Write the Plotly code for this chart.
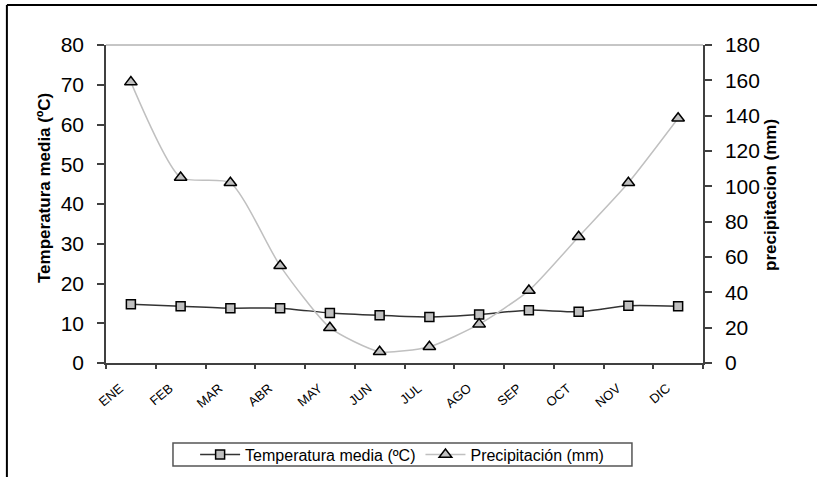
import plotly.graph_objects as go

# Monthly climate data
months = ["ENE", "FEB", "MAR", "ABR", "MAY", "JUN",
          "JUL", "AGO", "SEP", "OCT", "NOV", "DIC"]
temperatura = [14.8, 14.3, 13.8, 13.8, 12.6, 12.0,
               11.6, 12.2, 13.3, 12.9, 14.4, 14.3]
precipitacion = [159, 105, 102, 55, 20, 6.4,
                 9.2, 22, 41, 71.5, 102, 138.5]

FONT = "Liberation Sans, Arial, sans-serif"
AXIS_COLOR = "#404040"

fig = go.Figure()

fig.add_trace(go.Scatter(
    x=months, y=temperatura, name="Temperatura media (ºC)",
    mode="lines+markers",
    line=dict(color="#333333", width=1.5, shape="spline", smoothing=0.6),
    marker=dict(symbol="square", size=9, color="#c0c0c0",
                line=dict(color="#000000", width=1.5)),
    yaxis="y",
))

fig.add_trace(go.Scatter(
    x=months, y=precipitacion, name="Precipitación (mm)",
    mode="lines+markers",
    line=dict(color="#c0c0c0", width=1.5, shape="spline", smoothing=0.6),
    marker=dict(symbol="triangle-up", size=11, color="#c0c0c0",
                line=dict(color="#000000", width=1.5)),
    yaxis="y2",
))

tick_font = dict(family=FONT, size=21, color="#000000")

fig.update_layout(
    width=817, height=477,
    margin=dict(l=106, r=114, t=45, b=114, autoexpand=False),
    paper_bgcolor="white", plot_bgcolor="white",
    showlegend=True,
    legend=dict(
        orientation="h", x=0.496, xanchor="center",
        y=-0.288, yanchor="middle",
        borderwidth=0, bgcolor="rgba(0,0,0,0)",
        font=dict(family=FONT, size=16, color="#000000"),
        itemwidth=40,
    ),
    xaxis=dict(
        type="category", categoryarray=months, range=[-0.5, 11.5],
        tickson="boundaries", ticks="outside", ticklen=4,
        tickcolor=AXIS_COLOR, tickwidth=1.5,
        showline=True, linecolor=AXIS_COLOR, linewidth=1.5,
        showgrid=False, zeroline=False, automargin=False,
        tickangle=-40, ticklabelshift=-11, ticklabelstandoff=11,
        tickfont=dict(family=FONT, size=13, color="#000000"),
    ),
    # companion axis drawing the inner half of the category ticks
    xaxis2=dict(
        overlaying="x", anchor="y", side="bottom",
        range=[-0.5, 11.5], tick0=-0.5, dtick=1, tickmode="linear",
        ticks="inside", ticklen=5, tickcolor=AXIS_COLOR, tickwidth=1.5,
        showticklabels=False, showgrid=False, zeroline=False,
        showline=False, automargin=False,
    ),
    yaxis=dict(
        range=[0, 80], dtick=10, tick0=0,
        ticks="outside", ticklen=7, tickcolor=AXIS_COLOR, tickwidth=1.5,
        showline=True, linecolor=AXIS_COLOR, linewidth=1.5,
        showgrid=False, zeroline=False, automargin=False,
        tickfont=tick_font, ticklabelstandoff=9,
    ),
    yaxis2=dict(
        overlaying="y", side="right", anchor="x",
        range=[0, 180], dtick=20, tick0=0,
        ticks="outside", ticklen=7, tickcolor=AXIS_COLOR, tickwidth=1.5,
        showline=True, linecolor=AXIS_COLOR, linewidth=1.5,
        showgrid=False, zeroline=False, automargin=False,
        tickfont=tick_font, ticklabelstandoff=9,
    ),
    yaxis3=dict(
        overlaying="y", side="left", anchor="x",
        range=[0, 80], dtick=10, tick0=0, tickmode="linear",
        ticks="inside", ticklen=7, tickcolor=AXIS_COLOR, tickwidth=1.5,
        showticklabels=False, showgrid=False, zeroline=False,
        showline=False, automargin=False,
    ),
    yaxis4=dict(
        overlaying="y", side="right", anchor="x",
        range=[0, 180], dtick=20, tick0=0, tickmode="linear",
        ticks="inside", ticklen=7, tickcolor=AXIS_COLOR, tickwidth=1.5,
        showticklabels=False, showgrid=False, zeroline=False,
        showline=False, automargin=False,
    ),
)

# Axis titles
fig.add_annotation(
    text="<b>Temperatura media (ºC)</b>", textangle=-90,
    xref="paper", yref="paper", x=-0.104, y=0.55,
    xanchor="center", yanchor="middle",
    showarrow=False, font=dict(family=FONT, size=17, color="#000000"),
)
fig.add_annotation(
    text="<b>precipitacion (mm)</b>", textangle=-90,
    xref="paper", yref="paper", x=1.112, y=0.528,
    xanchor="center", yanchor="middle",
    showarrow=False, font=dict(family=FONT, size=17, color="#000000"),
)

# Light top border of the plot area
fig.add_shape(type="line", xref="paper", yref="paper",
              x0=0, x1=1, y0=1, y1=1,
              line=dict(color="#8c8c8c", width=1))

# Legend frame
fig.add_shape(type="rect", xref="paper", yref="paper",
              x0=0.1122, x1=0.881, y0=-0.2516, y1=-0.3239,
              line=dict(color="#555555", width=1.5))

# Outer chart frame (top and left edges)
fig.add_shape(type="line", xref="paper", yref="paper",
              x0=-0.166, x1=1.25, y0=1.126, y1=1.126,
              line=dict(color="#000000", width=2))
fig.add_shape(type="line", xref="paper", yref="paper",
              x0=-0.166, x1=-0.166, y0=1.126, y1=-0.4,
              line=dict(color="#000000", width=2))

fig.write_html("out.html")
